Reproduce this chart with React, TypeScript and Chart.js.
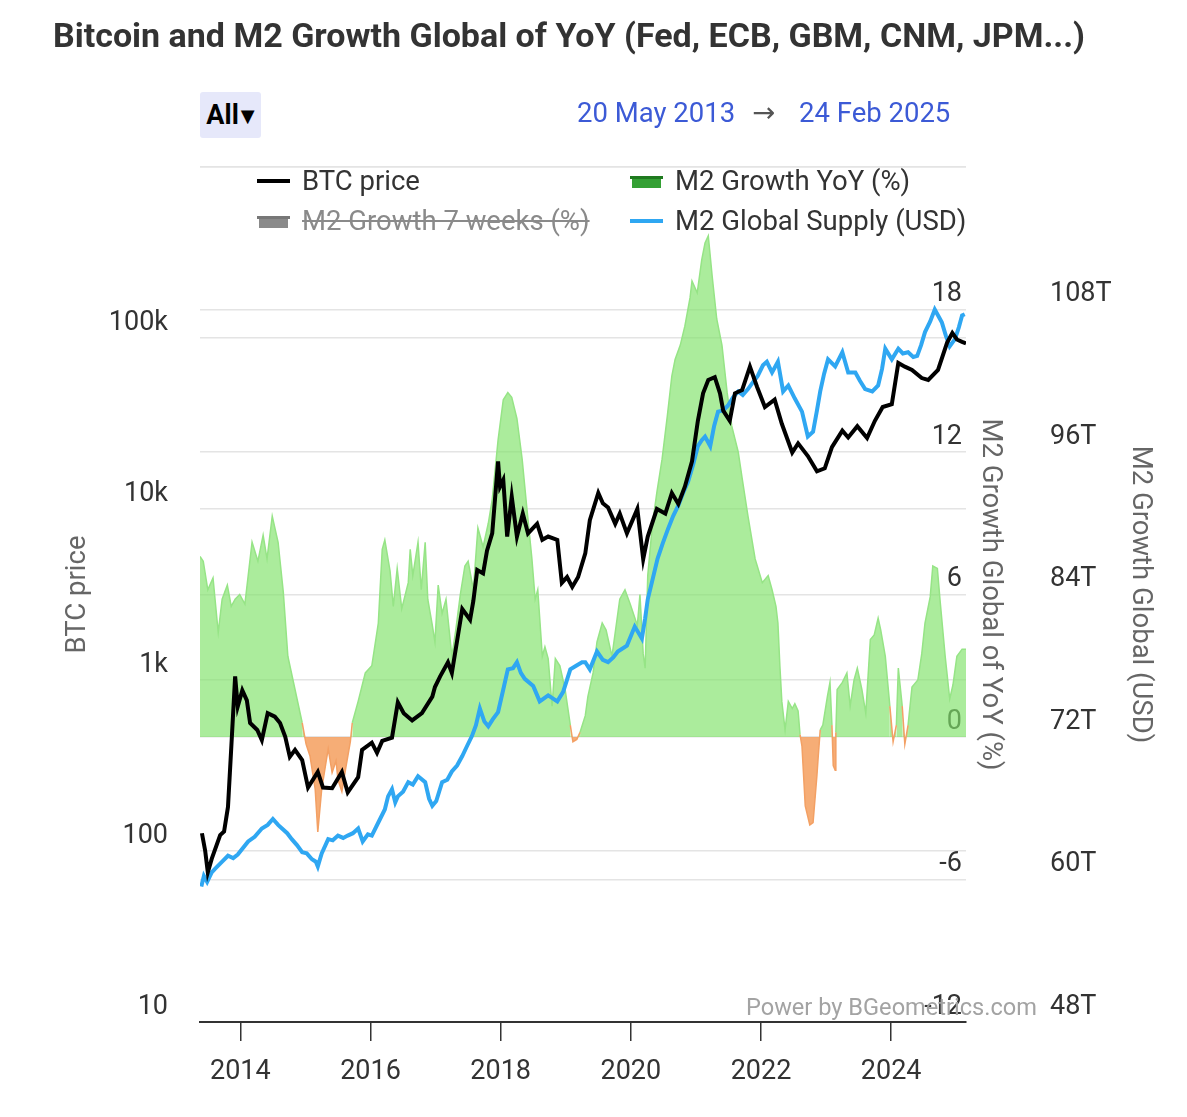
import React, { useEffect, useRef } from 'react';
import { Chart, registerables } from 'chart.js';

Chart.register(...registerables);

// ---------- data (decimal years) ----------
const btcYears = [
  2013.41, 2013.46, 2013.50, 2013.56, 2013.69, 2013.75, 2013.81, 2013.86, 2013.92, 2013.96,
  2014.03, 2014.10, 2014.15, 2014.26, 2014.33, 2014.42, 2014.53, 2014.61, 2014.69, 2014.76,
  2014.84, 2014.95, 2015.04, 2015.19, 2015.27, 2015.41, 2015.56, 2015.65, 2015.81, 2015.87,
  2016.02, 2016.10, 2016.18, 2016.33, 2016.42, 2016.51, 2016.64, 2016.79, 2016.95, 2016.99,
  2017.07, 2017.19, 2017.25, 2017.41, 2017.53, 2017.58, 2017.64, 2017.73, 2017.79, 2017.87,
  2017.96, 2017.99, 2018.04, 2018.10, 2018.17, 2018.25, 2018.34, 2018.42, 2018.56, 2018.64,
  2018.73, 2018.87, 2018.94, 2019.02, 2019.10, 2019.19, 2019.30, 2019.37, 2019.50, 2019.57,
  2019.65, 2019.76, 2019.83, 2019.94, 2020.10, 2020.19, 2020.26, 2020.40, 2020.53, 2020.63,
  2020.73, 2020.83, 2020.94, 2021.03, 2021.11, 2021.19, 2021.29, 2021.37, 2021.42, 2021.52,
  2021.60, 2021.71, 2021.83, 2021.94, 2022.06, 2022.21, 2022.32, 2022.48, 2022.57, 2022.72,
  2022.86, 2022.98, 2023.09, 2023.25, 2023.34, 2023.48, 2023.63, 2023.75, 2023.87, 2024.01,
  2024.11, 2024.21, 2024.32, 2024.47, 2024.57, 2024.72, 2024.86, 2024.94, 2025.01, 2025.09,
  2025.15,
];
const btcPrices = [
  127, 100, 75, 90, 124, 130, 181, 400, 1050, 700,
  870, 760, 560, 510, 445, 640, 610, 560, 465, 355,
  390, 340, 235, 290, 235, 233, 290, 220, 270, 390,
  430, 375, 440, 460, 740, 640, 580, 640, 800, 910,
  1050, 1270, 1100, 2600, 2250, 2900, 4400, 4200, 5700, 7200,
  19000, 13500, 14800, 6900, 11800, 6900, 9400, 7200, 8200, 6600,
  6900, 6600, 3700, 4000, 3500, 4000, 5500, 8600, 12400, 10800,
  10200, 8200, 9400, 7200, 10000, 5100, 6900, 10000, 9400, 12400,
  10700, 13500, 19000, 32800, 47500, 56800, 59000, 47500, 37600, 32800,
  47500, 49600, 68000, 51700, 39500, 43600, 31500, 21400, 24200, 20400,
  16600, 17300, 23000, 28700, 26200, 30500, 26000, 32800, 39500, 41000,
  71500, 68000, 65000, 58300, 56800, 65000, 94000, 107000, 98000, 95000,
  93000,
];

const m2Years = [
  2013.40, 2013.44, 2013.49, 2013.56, 2013.61, 2013.72, 2013.81, 2013.89, 2013.96, 2014.12,
  2014.22, 2014.33, 2014.42, 2014.50, 2014.58, 2014.64, 2014.72, 2014.79, 2014.87, 2014.95,
  2015.02, 2015.10, 2015.16, 2015.19, 2015.25, 2015.35, 2015.42, 2015.50, 2015.58, 2015.65,
  2015.73, 2015.81, 2015.88, 2015.96, 2016.02, 2016.12, 2016.22, 2016.27, 2016.33, 2016.38,
  2016.42, 2016.50, 2016.58, 2016.65, 2016.73, 2016.84, 2016.90, 2016.95, 2017.01, 2017.10,
  2017.18, 2017.25, 2017.33, 2017.41, 2017.48, 2017.56, 2017.62, 2017.68, 2017.75, 2017.81,
  2017.88, 2017.96, 2018.04, 2018.11, 2018.19, 2018.25, 2018.31, 2018.37, 2018.50, 2018.60,
  2018.73, 2018.87, 2018.96, 2019.07, 2019.16, 2019.25, 2019.30, 2019.37, 2019.48, 2019.57,
  2019.65, 2019.73, 2019.80, 2019.94, 2020.06, 2020.17, 2020.22, 2020.26, 2020.34, 2020.41,
  2020.49, 2020.57, 2020.65, 2020.73, 2020.80, 2020.88, 2020.96, 2021.03, 2021.09, 2021.14,
  2021.22, 2021.28, 2021.34, 2021.42, 2021.49, 2021.57, 2021.65, 2021.72, 2021.80, 2021.88,
  2021.95, 2022.03, 2022.09, 2022.17, 2022.26, 2022.34, 2022.42, 2022.52, 2022.63, 2022.72,
  2022.80, 2022.86, 2022.91, 2022.97, 2023.03, 2023.14, 2023.25, 2023.34, 2023.45, 2023.52,
  2023.60, 2023.71, 2023.80, 2023.86, 2023.91, 2024.01, 2024.11, 2024.18, 2024.26, 2024.34,
  2024.40, 2024.46, 2024.52, 2024.60, 2024.67, 2024.74, 2024.78, 2024.84, 2024.90, 2024.98,
  2025.04, 2025.09, 2025.13,
];
const m2Supply = [
  59.4, 60.3, 59.8, 60.6, 60.9, 61.5, 62.0, 61.8, 62.1, 63.2,
  63.6, 64.3, 64.6, 65.1, 64.6, 64.3, 63.9, 63.4, 62.9, 62.3,
  62.2, 61.7, 61.5, 61.1, 62.2, 63.4, 63.3, 63.7, 63.5, 63.7,
  63.9, 64.3, 63.2, 63.8, 63.7, 64.8, 65.9, 67.0, 67.6, 66.5,
  67.0, 67.4, 68.2, 68.0, 68.7, 68.2, 66.8, 66.2, 66.6, 68.2,
  68.4, 69.1, 69.6, 70.4, 71.2, 72.1, 73.0, 74.4, 73.3, 72.9,
  73.5, 74.1, 76.0, 77.7, 77.8, 78.3, 77.4, 76.9, 76.3, 75.0,
  75.5, 75.0, 75.8, 77.7, 78.0, 78.3, 78.3, 77.7, 79.2, 78.5,
  78.3, 78.7, 79.2, 79.7, 81.3, 80.3, 82.0, 83.6, 85.4, 87.0,
  88.3, 89.5, 90.6, 91.5, 92.5, 93.5, 95.0, 96.5, 97.0, 97.3,
  96.5, 98.2, 99.4, 99.5, 99.9, 100.6, 101.1, 100.8, 101.3, 101.9,
  102.4, 103.3, 103.6, 102.7, 103.6, 101.1, 101.6, 100.5, 99.4, 97.3,
  97.7, 99.5, 101.1, 102.6, 103.8, 103.2, 104.4, 102.7, 102.7, 102.0,
  101.3, 101.1, 101.6, 103.0, 104.7, 103.8, 104.7, 104.3, 104.4, 104.0,
  104.1, 105.0, 106.1, 107.0, 108.0, 107.3, 106.9, 105.8, 104.9, 105.5,
  106.5, 107.5, 107.6,
];

const growthYears = [
  2013.38, 2013.43, 2013.50, 2013.58, 2013.66, 2013.72, 2013.80, 2013.86, 2013.92, 2013.99,
  2014.07, 2014.18, 2014.27, 2014.35, 2014.41, 2014.49, 2014.58, 2014.66, 2014.73, 2014.84,
  2014.95, 2015.01, 2015.07, 2015.15, 2015.19, 2015.25, 2015.32, 2015.35, 2015.41, 2015.47,
  2015.50, 2015.56, 2015.62, 2015.69, 2015.72, 2015.81, 2015.92, 2016.02, 2016.12, 2016.18,
  2016.22, 2016.30, 2016.35, 2016.41, 2016.48, 2016.58, 2016.61, 2016.65, 2016.73, 2016.78,
  2016.84, 2016.88, 2016.95, 2016.99, 2017.04, 2017.10, 2017.16, 2017.25, 2017.31, 2017.38,
  2017.45, 2017.50, 2017.58, 2017.65, 2017.73, 2017.81, 2017.87, 2017.96, 2018.04, 2018.11,
  2018.17, 2018.25, 2018.33, 2018.40, 2018.48, 2018.53, 2018.57, 2018.64, 2018.68, 2018.73,
  2018.79, 2018.84, 2018.91, 2018.99, 2019.07, 2019.11, 2019.17, 2019.22, 2019.30, 2019.34,
  2019.42, 2019.48, 2019.56, 2019.62, 2019.71, 2019.76, 2019.83, 2019.91, 2019.99, 2020.10,
  2020.14, 2020.19, 2020.22, 2020.26, 2020.33, 2020.40, 2020.48, 2020.56, 2020.63, 2020.68,
  2020.76, 2020.83, 2020.91, 2020.94, 2021.02, 2021.09, 2021.14, 2021.19, 2021.25, 2021.32,
  2021.40, 2021.48, 2021.55, 2021.65, 2021.71, 2021.80, 2021.91, 2022.02, 2022.11, 2022.17,
  2022.23, 2022.26, 2022.29, 2022.32, 2022.37, 2022.42, 2022.48, 2022.52, 2022.57, 2022.60,
  2022.63, 2022.68, 2022.75, 2022.80, 2022.86, 2022.88, 2022.91, 2022.95, 2023.02, 2023.06,
  2023.09, 2023.11, 2023.14, 2023.15, 2023.17, 2023.25, 2023.32, 2023.37, 2023.43, 2023.48,
  2023.55, 2023.61, 2023.68, 2023.74, 2023.80, 2023.84, 2023.91, 2023.98, 2024.03, 2024.08,
  2024.11, 2024.17, 2024.21, 2024.26, 2024.32, 2024.41, 2024.47, 2024.52, 2024.60, 2024.64,
  2024.71, 2024.75, 2024.83, 2024.90, 2024.95, 2025.01, 2025.09, 2025.15,
];
const growthYoY = [
  7.6, 7.4, 6.2, 6.7, 4.4, 5.8, 6.4, 5.5, 5.8, 6.0,
  5.6, 8.2, 7.4, 8.5, 7.5, 9.3, 8.2, 6.1, 3.4, 2.0,
  0.6, -0.3, -0.8, -2.2, -4.0, -2.2, -1.0, -0.5, -1.5, -1.0,
  -1.8, -2.3, -1.3, -0.2, 0.6, 1.5, 2.7, 3.0, 4.8, 7.9,
  8.3, 7.0, 5.5, 7.1, 5.4, 6.5, 7.9, 6.8, 8.2, 6.2,
  8.2, 5.8, 4.7, 4.0, 6.4, 5.2, 5.8, 3.4, 4.5, 6.0,
  7.2, 7.4, 6.2, 8.8, 8.0, 9.0, 10.0, 12.5, 14.2, 14.5,
  14.3, 13.4, 11.7, 9.7, 7.5, 5.8, 6.2, 3.4, 3.8, 3.3,
  1.3, 3.3, 3.0, 2.0, 0.5, -0.2, -0.1, 0.2, 0.9, 1.7,
  2.7, 4.0, 4.8, 4.5, 3.4, 4.4, 5.8, 6.2, 5.6, 4.7,
  6.0, 3.5, 2.9, 6.8, 8.9, 10.3, 11.7, 13.5, 15.2, 15.9,
  16.5, 17.3, 18.5, 19.2, 18.7, 20.1, 20.8, 21.1, 19.4, 17.6,
  16.5, 14.5, 13.1, 12.0, 10.9, 9.3, 7.5, 6.5, 6.8, 6.2,
  5.5, 4.8, 3.0, 1.5, 0.3, 1.5, 1.2, 1.4, 1.1, 0.1,
  -0.4, -2.9, -3.7, -3.6, -1.6, -0.8, 0.3, 0.5, 1.7, 2.3,
  0.5, -1.2, -1.4, 0.2, 2.0, 2.3, 2.7, 1.3, 2.4, 2.9,
  2.0, 1.0, 4.1, 4.3, 5.0, 4.5, 3.4, 1.3, -0.2, 0.5,
  2.9, 1.3, -0.3, 0.5, 2.1, 2.4, 3.5, 4.8, 5.9, 7.2,
  7.1, 5.8, 3.4, 1.6, 2.2, 3.4, 3.7, 3.7,
];

const xTickYears = [2014, 2016, 2018, 2020, 2022, 2024];
const btcTicks = [10, 100, 1000, 10000, 100000, 1000000];
const btcTickLabels = ['10', '100', '1k', '10k', '100k', ''];
const yoyTicks = [-12, -6, 0, 6, 12, 18, 24];
const m2Ticks = [48, 60, 72, 84, 96, 108, 120];

const FONT = 'Roboto, "Noto Sans", "DejaVu Sans", sans-serif';
const GRID = '#e4e4e4';
const GREEN_FILL = 'rgba(128,226,104,0.66)';
const GREEN_LINE = '#96e486';
const ORANGE_FILL = 'rgba(244,150,80,0.78)';
const ORANGE_LINE = '#f3a064';

const toPoints = (xs: number[], ys: number[]) => xs.map((x, i) => ({ x, y: ys[i] }));

export default function App() {
  const ref = useRef<HTMLCanvasElement | null>(null);

  useEffect(() => {
    document.body.style.overflow = 'hidden';
    if (!ref.current) return;
    const tickFont = { family: FONT, size: 27 };
    const titleFont = { family: FONT, size: 27.5 };
    const chart = new Chart(ref.current, {
      type: 'line',
      data: {
        datasets: [
          {
            label: 'BTC price',
            data: toPoints(btcYears, btcPrices),
            yAxisID: 'y',
            borderColor: '#000000',
            borderWidth: 4,
            pointRadius: 0,
            tension: 0,
            fill: false,
            order: 0,
          },
          {
            label: 'M2 Global Supply (USD)',
            data: toPoints(m2Years, m2Supply),
            yAxisID: 'm2',
            borderColor: '#2fa7f2',
            borderWidth: 4,
            pointRadius: 0,
            tension: 0,
            fill: false,
            order: 1,
          },
          {
            label: 'M2 Growth YoY (%)',
            data: toPoints(growthYears, growthYoY),
            yAxisID: 'yoy',
            borderColor: GREEN_LINE,
            borderWidth: 1.5,
            pointRadius: 0,
            tension: 0,
            fill: { target: { value: 0 }, above: GREEN_FILL, below: ORANGE_FILL },
            segment: {
              borderColor: (ctx: any) =>
                ctx.p0.parsed.y < 0 || ctx.p1.parsed.y < 0 ? ORANGE_LINE : GREEN_LINE,
            },
            order: 2,
          } as any,
        ],
      },
      options: {
        responsive: false,
        animation: false,
        layout: { padding: { left: 0, right: 11, top: 167, bottom: 0 } },
        plugins: {
          legend: { display: false },
          tooltip: { enabled: false },
          title: { display: false },
        },
        scales: {
          x: {
            type: 'linear',
            position: 'bottom',
            min: 2013.38,
            max: 2025.15,
            afterBuildTicks: (s: any) => {
              s.ticks = xTickYears.map((v) => ({ value: v }));
            },
            afterFit: (s: any) => {
              s.height = 95;
            },
            grid: {
              display: true,
              drawOnChartArea: false,
              drawTicks: true,
              tickLength: 19,
              color: '#333333',
              lineWidth: 1.5,
            },
            border: { display: true, color: '#333333', width: 2 },
            ticks: {
              autoSkip: false,
              maxRotation: 0,
              padding: 15,
              color: '#333333',
              font: tickFont,
              callback: (v: any) => String(v),
            },
          },
          y: {
            type: 'logarithmic',
            position: 'left',
            min: 10,
            max: 1000000,
            afterBuildTicks: (s: any) => {
              s.ticks = btcTicks.map((v) => ({ value: v }));
            },
            afterFit: (s: any) => {
              s.width = 200;
            },
            grid: { color: GRID, lineWidth: 1.5, drawTicks: false },
            border: { display: false },
            ticks: {
              padding: 32,
              labelOffset: -15,
              color: '#333333',
              font: tickFont,
              callback: (v: any) => {
                const i = btcTicks.indexOf(Number(v));
                return i >= 0 ? btcTickLabels[i] : '';
              },
            },
            title: {
              display: true,
              text: 'BTC price',
              color: '#666666',
              font: titleFont,
              padding: { top: 62, bottom: 0 },
            },
          },
          yoy: {
            type: 'linear',
            position: 'right',
            weight: 0,
            min: -12,
            max: 24,
            afterBuildTicks: (s: any) => {
              s.ticks = yoyTicks.map((v) => ({ value: v }));
            },
            afterFit: (s: any) => {
              s.width = 40;
            },
            grid: { color: GRID, lineWidth: 1.5, drawTicks: false },
            border: { display: false },
            ticks: {
              mirror: true,
              padding: -4,
              labelOffset: -15,
              color: '#333333',
              font: tickFont,
              callback: (v: any) => (Number(v) === 24 ? '' : String(v)),
            },
            title: {
              display: true,
              text: 'M2 Growth Global of YoY (%)',
              color: '#666666',
              font: titleFont,
              padding: { top: 0, bottom: 0 },
            },
          },
          m2: {
            type: 'linear',
            position: 'right',
            weight: 1,
            min: 48,
            max: 120,
            afterBuildTicks: (s: any) => {
              s.ticks = m2Ticks.map((v) => ({ value: v }));
            },
            afterFit: (s: any) => {
              s.width = 170;
            },
            grid: { display: false, drawTicks: false },
            border: { display: false },
            ticks: {
              padding: 44,
              labelOffset: -15,
              color: '#333333',
              font: tickFont,
              callback: (v: any) => (Number(v) === 120 ? '' : `${v}T`),
            },
            title: {
              display: true,
              text: 'M2 Growth Global (USD)',
              color: '#666666',
              font: titleFont,
              padding: { top: 20, bottom: 0 },
            },
          },
        } as any,
      },
    });
    return () => chart.destroy();
  }, []);

  const legendText: React.CSSProperties = {
    position: 'absolute',
    fontSize: 27.5,
    lineHeight: '32px',
    color: '#333333',
    whiteSpace: 'nowrap',
  };

  return (
    <div
      style={{
        position: 'absolute',
        left: 0,
        top: 0,
        width: 1187,
        height: 1117,
        overflow: 'hidden',
        background: '#ffffff',
        fontFamily: FONT,
      }}
    >
      <canvas
        ref={ref}
        width={1187}
        height={1117}
        style={{ position: 'absolute', left: 0, top: 0, width: 1187, height: 1117 }}
      />
      {/* Title */}
      <div
        style={{
          position: 'absolute',
          left: 53,
          top: 15,
          fontSize: 34,
          fontWeight: 700,
          color: '#333333',
          lineHeight: '40px',
          whiteSpace: 'nowrap',
        }}
      >
        Bitcoin and M2 Growth Global of YoY (Fed, ECB, GBM, CNM, JPM...)
      </div>
      {/* Range button */}
      <div
        style={{
          position: 'absolute',
          left: 200,
          top: 92,
          width: 61,
          height: 46,
          background: '#e6e8fa',
          borderRadius: 3,
          display: 'flex',
          alignItems: 'center',
          justifyContent: 'center',
          fontSize: 27,
          fontWeight: 700,
          color: '#000000',
        }}
      >
        All<span style={{ fontSize: 18, marginLeft: 2 }}>▼</span>
      </div>
      {/* Date range */}
      <div style={{ ...legendText, left: 577, top: 97, color: '#3c5ad6' }}>20 May 2013</div>
      <div style={{ ...legendText, left: 752, top: 97, color: '#555555' }}>→</div>
      <div style={{ ...legendText, left: 799, top: 97, color: '#3c5ad6' }}>24 Feb 2025</div>
      {/* Legend */}
      <div style={{ position: 'absolute', left: 257, top: 179, width: 33, height: 4, background: '#000000' }} />
      <div style={{ ...legendText, left: 302, top: 165 }}>BTC price</div>
      <div style={{ position: 'absolute', left: 257, top: 216, width: 33, height: 3, background: '#777777' }} />
      <div style={{ position: 'absolute', left: 259, top: 219, width: 29, height: 9, background: '#8a8a8a' }} />
      <div
        style={{
          ...legendText,
          left: 302,
          top: 205,
          color: '#8a8a8a',
          textDecoration: 'line-through',
        }}
      >
        M2 Growth 7 weeks (%)
      </div>
      <div style={{ position: 'absolute', left: 630, top: 176, width: 33, height: 3, background: '#1f7a1f' }} />
      <div style={{ position: 'absolute', left: 632, top: 179, width: 29, height: 9, background: '#34a034' }} />
      <div style={{ ...legendText, left: 675, top: 165 }}>M2 Growth YoY (%)</div>
      <div style={{ position: 'absolute', left: 630, top: 219, width: 33, height: 4, background: '#2fa7f2' }} />
      <div style={{ ...legendText, left: 675, top: 205 }}>M2 Global Supply (USD)</div>
      {/* Credit */}
      <div
        style={{
          position: 'absolute',
          right: 150,
          top: 992,
          fontSize: 23.6,
          lineHeight: '30px',
          color: '#a3a3a3',
          whiteSpace: 'nowrap',
        }}
      >
        Power by BGeometrics.com
      </div>
    </div>
  );
}
